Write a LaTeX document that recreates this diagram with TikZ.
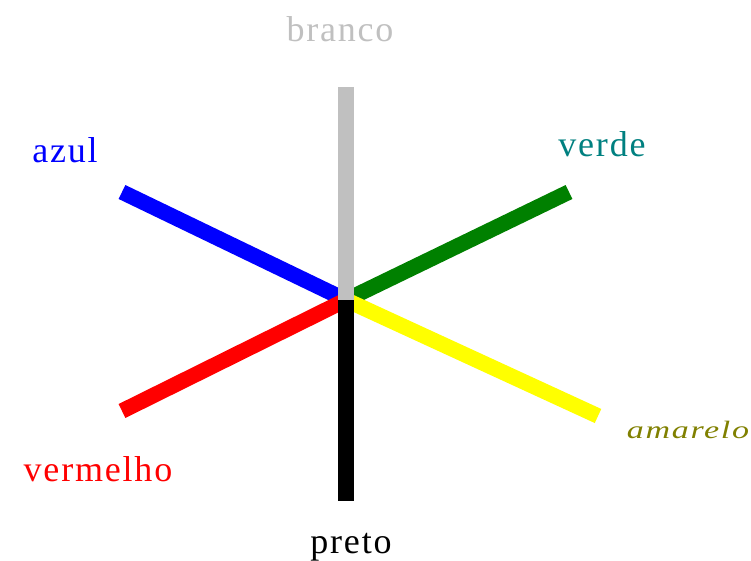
\documentclass[tikz,border=0pt]{standalone}
\usepackage{fontspec}
\setmainfont{Liberation Serif}[LetterSpace=5]
\definecolor{cgray}{RGB}{192,192,192}
\definecolor{cblue}{RGB}{0,0,255}
\definecolor{cgreen}{RGB}{0,128,0}
\definecolor{cred}{RGB}{255,0,0}
\definecolor{cyellow}{RGB}{255,255,0}
\definecolor{cteal}{RGB}{0,128,128}
\definecolor{colive}{RGB}{128,128,0}
\begin{document}
\begin{tikzpicture}[x=1pt,y=-1pt,
  bar/.style={line width=15.5pt,line cap=butt},
  lbl/.style={anchor=base,inner sep=0pt,font=\fontsize{36}{40}\selectfont}]
\useasboundingbox (0,0) rectangle (751,561);
\coordinate (c) at (346,300);
\coordinate (top) at (346,87);
\coordinate (bot) at (346,501);
\coordinate (eb) at (122,192);
\coordinate (eg) at (569,192);
\coordinate (er) at (122,411);
\coordinate (ey) at (598,416);
\draw[bar,cblue] (eb) -- (c);
\draw[bar,cgreen] (eg) -- (c);
\draw[bar,cred] (er) -- (c);
\draw[bar,cyellow] (ey) -- (c);
\draw[bar,cgray] (top) -- (c);
\draw[bar,black] (c) -- (bot);
\node[lbl,text=cgray] (branco) at (340,42) {branco};
\node[lbl,text=cblue] (azul) at (65,163) {azul};
\node[lbl,text=cteal] (verde) at (602,157) {verde};
\node[lbl,text=cred] (vermelho) at (98,481) {vermelho};
\node[lbl,text=black] (preto) at (351,553) {preto};
\node[anchor=base,inner sep=0pt,text=colive] (amarelo) at (688,438) {\scalebox{1.36}[1]{\fontsize{25}{28}\selectfont\itshape amarelo}};
\end{tikzpicture}
\end{document}
